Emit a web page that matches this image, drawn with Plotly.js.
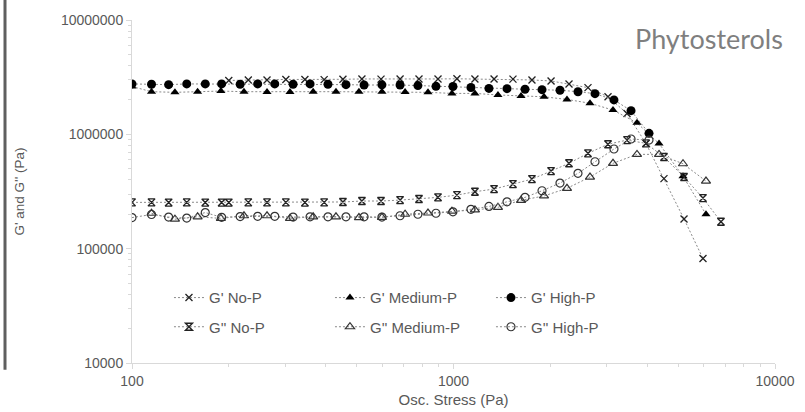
<!DOCTYPE html>
<html><head><meta charset="utf-8">
<script src="https://cdn.plot.ly/plotly-3.0.1.min.js"></script>
<style>html,body{margin:0;padding:0;background:#fff}#chart{width:805px;height:412px}</style>
</head><body><div id="chart"></div>
<script>
// Osc. stress (Pa) and moduli (Pa)
const xNoPStorage = [200, 230, 263, 301, 345, 396, 453, 519, 595, 682, 781, 895, 1025, 1166, 1337, 1531, 1754, 2011, 2287, 2620, 3024, 3465, 3970, 4515, 5212, 5970];
const gStorageNoP = [2.96e6, 2.99e6, 2.99e6, 3.02e6, 3.02e6, 3.01e6, 3.03e6, 3.05e6, 3.04e6, 3.05e6, 3.05e6, 3.05e6, 3.06e6, 3.05e6, 3.05e6, 3.04e6, 2.99e6, 2.93e6, 2.76e6, 2.56e6, 2.13e6, 1.52e6, 8.3e5, 4.1e5, 1.82e5, 8.2e4];

const xMedStorage = [100, 115, 136, 160, 189, 223, 263, 310, 366, 431, 508, 599, 707, 833, 989, 1166, 1375, 1622, 1912, 2254, 2658, 3134, 3722, 4358, 5174, 6100];
const gStorageMed = [2.62e6, 2.36e6, 2.33e6, 2.36e6, 2.39e6, 2.36e6, 2.35e6, 2.34e6, 2.36e6, 2.36e6, 2.36e6, 2.36e6, 2.35e6, 2.33e6, 2.28e6, 2.28e6, 2.21e6, 2.16e6, 2.13e6, 2.02e6, 1.87e6, 1.63e6, 1.26e6, 8.3e5, 4.3e5, 2.0e5];

const xHigh = [100, 115, 130, 148, 169, 190, 217, 246, 278, 317, 358, 407, 463, 527, 599, 682, 775, 882, 996, 1133, 1289, 1467, 1669, 1885, 2144, 2439, 2755, 3156, 3566, 4056];
const gStorageHigh = [2.76e6, 2.74e6, 2.72e6, 2.76e6, 2.76e6, 2.76e6, 2.74e6, 2.76e6, 2.76e6, 2.74e6, 2.76e6, 2.74e6, 2.72e6, 2.70e6, 2.71e6, 2.70e6, 2.67e6, 2.63e6, 2.62e6, 2.57e6, 2.52e6, 2.51e6, 2.48e6, 2.46e6, 2.43e6, 2.36e6, 2.27e6, 2.0e6, 1.61e6, 1.02e6];

const xNoPLoss = [100, 115, 130, 148, 169, 190, 200, 230, 263, 301, 345, 396, 453, 519, 595, 682, 781, 895, 1025, 1166, 1337, 1531, 1754, 2011, 2287, 2620, 3024, 3465, 3970, 4515, 5212, 5970, 6790];
const gLossNoP = [2.54e5, 2.54e5, 2.53e5, 2.54e5, 2.53e5, 2.53e5, 2.53e5, 2.54e5, 2.54e5, 2.54e5, 2.53e5, 2.54e5, 2.56e5, 2.61e5, 2.61e5, 2.66e5, 2.72e5, 2.81e5, 2.94e5, 3.15e5, 3.32e5, 3.67e5, 4.06e5, 4.77e5, 5.58e5, 6.82e5, 8.2e5, 8.9e5, 8.34e5, 6.33e5, 4.23e5, 2.77e5, 1.72e5];

const xMedLoss = [115, 136, 160, 189, 223, 263, 310, 366, 431, 508, 599, 707, 833, 989, 1166, 1375, 1622, 1912, 2254, 2658, 3134, 3722, 4358, 5174, 6100];
const gLossMed = [2.04e5, 1.81e5, 1.90e5, 1.84e5, 1.94e5, 1.94e5, 1.84e5, 1.90e5, 1.90e5, 1.87e5, 1.88e5, 2.0e5, 2.05e5, 2.13e5, 2.18e5, 2.30e5, 2.65e5, 2.89e5, 3.37e5, 4.23e5, 5.58e5, 6.68e5, 6.68e5, 5.53e5, 3.90e5];

const gLossHigh = [1.87e5, 1.99e5, 1.89e5, 1.85e5, 2.07e5, 1.88e5, 1.91e5, 1.92e5, 1.92e5, 1.89e5, 1.90e5, 1.90e5, 1.90e5, 1.90e5, 1.89e5, 1.94e5, 2.0e5, 2.04e5, 2.10e5, 2.21e5, 2.34e5, 2.57e5, 2.81e5, 3.21e5, 3.75e5, 4.56e5, 5.76e5, 7.44e5, 9.1e5, 8.9e5];

const seriesNames = ["G' No-P", "G' Medium-P", "G' High-P", "G'' No-P", "G'' Medium-P", "G'' High-P"];
const xTickVals = [100, 1000, 10000];
const xTickText = ["100", "1000", "10000"];
const yTickVals = [10000, 100000, 1000000, 10000000];
const yTickText = ["10000", "100000", "1000000", "10000000"];
const chartTitle = "Phytosterols";
const xTitle = "Osc. Stress (Pa)";
const yTitle = "G' and G'' (Pa)";

const lineStyle = {color: '#8a8a8a', width: 1, dash: '2px,2px'};
const txtFont = "'Liberation Sans Narrow', 'Liberation Sans', Arial, sans-serif";
function mk(x, y, name, legend, marker) {
  return {x: x, y: y, name: name, legend: legend, type: 'scatter', mode: 'lines+markers',
          line: lineStyle, marker: marker, hoverinfo: 'x+y+name'};
}
const traces = [
  mk(xNoPStorage, gStorageNoP, seriesNames[0], 'legend', {symbol: 'x-thin-open', size: 7, color: '#222', line: {color: '#222', width: 1.3}}),
  mk(xMedStorage, gStorageMed, seriesNames[1], 'legend', {symbol: 'triangle-up', size: 8, color: '#000', line: {width: 0}}),
  mk(xHigh, gStorageHigh, seriesNames[2], 'legend', {symbol: 'circle', size: 9, color: '#000', line: {width: 0}}),
  mk(xNoPLoss, gLossNoP, seriesNames[3], 'legend2', {symbol: 'hourglass-open', size: 7, color: '#222', line: {color: '#222', width: 1.4}}),
  mk(xMedLoss, gLossMed, seriesNames[4], 'legend2', {symbol: 'triangle-up-open', size: 8, color: '#333', line: {color: '#333', width: 1.2}}),
  mk(xHigh, gLossHigh, seriesNames[5], 'legend2', {symbol: 'circle-open', size: 8, color: '#333', line: {color: '#333', width: 1.2}})
];

const axisCommon = {
  type: 'log', showgrid: false, zeroline: false,
  showline: true, linecolor: '#d9d9d9', linewidth: 1,
  ticks: 'outside', ticklen: 5, tickcolor: '#d9d9d9', tickwidth: 1,
  tickfont: {family: txtFont, size: 14, color: '#595959'},
  tickmode: 'array',
  minor: {ticks: 'outside', ticklen: 3, tickcolor: '#d9d9d9', dtick: 'D1', showgrid: false}
};
const legendCommon = {
  orientation: 'h', xanchor: 'left', yanchor: 'middle', x: 0.0575,
  entrywidth: 116, entrywidthmode: 'pixels', bgcolor: 'rgba(0,0,0,0)',
  font: {family: txtFont, size: 15, color: '#595959'}, traceorder: 'normal'
};
const layout = {
  width: 805, height: 412,
  margin: {l: 132, r: 30, t: 20, b: 49},
  paper_bgcolor: '#fff', plot_bgcolor: '#fff',
  showlegend: true,
  xaxis: Object.assign({}, axisCommon, {
    range: [2, 4], tickvals: xTickVals, ticktext: xTickText,
    title: {text: xTitle, font: {family: txtFont, size: 15, color: '#595959'}, standoff: 6}
  }),
  yaxis: Object.assign({}, axisCommon, {
    range: [4, 7], tickvals: yTickVals, ticktext: yTickText,
    title: {text: yTitle, font: {family: txtFont, size: 13.5, color: '#595959'}, standoff: 33}
  }),
  legend: Object.assign({}, legendCommon, {y: 0.19}),
  legend2: Object.assign({}, legendCommon, {y: 0.105}),
  annotations: [{
    text: chartTitle, xref: 'paper', yref: 'paper', x: 1.0156, y: 0.9475,
    xanchor: 'right', yanchor: 'middle', showarrow: false,
    font: {family: "Lato, 'Open Sans', sans-serif", size: 27, color: '#7f7f7f'}
  }],
  shapes: [{
    type: 'line', xref: 'paper', yref: 'paper', x0: -0.1975, x1: -0.1975, y0: -0.02, y1: 1.06,
    line: {color: '#5f5f5f', width: 3}
  }]
};
Plotly.newPlot('chart', traces, layout, {displayModeBar: false, staticPlot: true});
</script></body></html>
